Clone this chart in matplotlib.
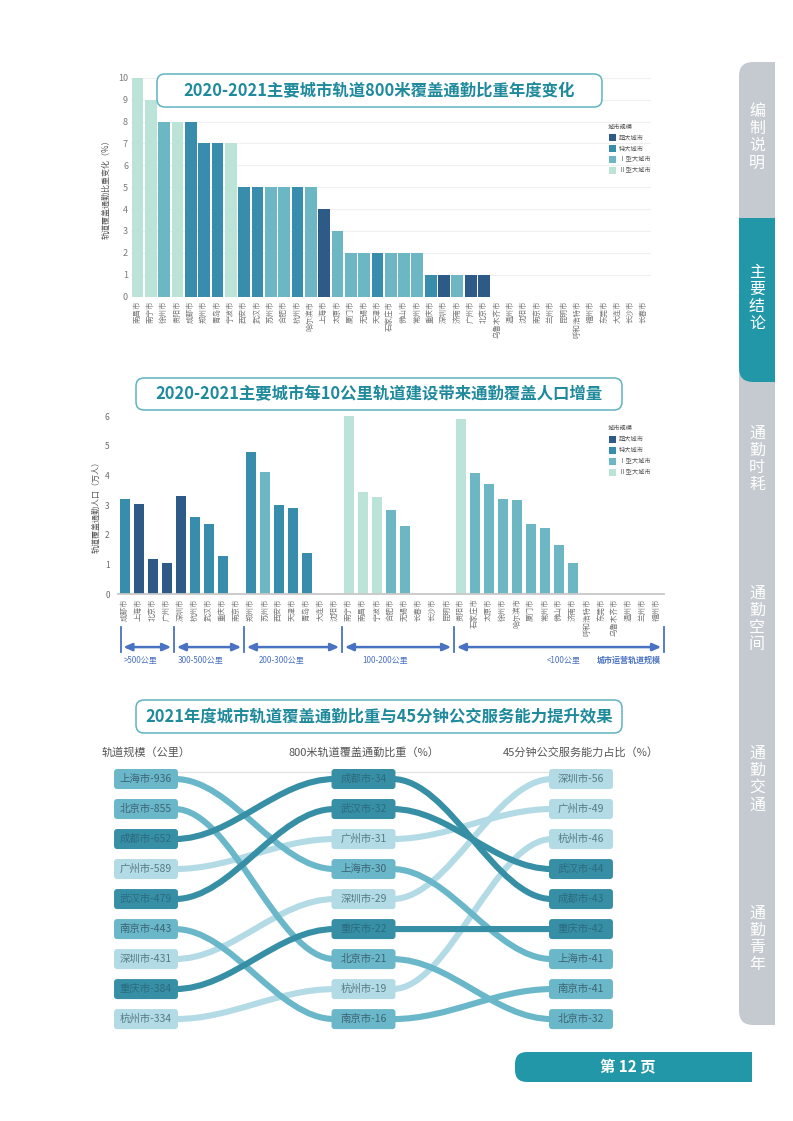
import numpy as np
import matplotlib
matplotlib.use('Agg')
import matplotlib.pyplot as plt
import matplotlib.transforms as mtransforms
from matplotlib.patches import FancyBboxPatch, Rectangle, PathPatch
from matplotlib.path import Path

plt.rcParams['font.family'] = ['Noto Sans CJK SC', 'DejaVu Sans']

# ---------------- data ----------------
level_names = ['超大城市', '特大城市', ' Ⅰ型大城市', ' Ⅱ型大城市']
level_colors = ['#2d5a87', '#378dab', '#6db7c5', '#bce3d8']

# chart 1: change of 800m rail coverage share 2020-2021
cities1 = ['南昌市', '南宁市', '徐州市', '贵阳市', '成都市', '郑州市', '青岛市', '宁波市',
           '西安市', '武汉市', '苏州市', '合肥市', '杭州市', '哈尔滨市', '上海市', '太原市',
           '厦门市', '无锡市', '天津市', '石家庄市', '佛山市', '常州市', '重庆市', '深圳市',
           '济南市', '广州市', '北京市', '乌鲁木齐市', '温州市', '沈阳市', '南京市', '兰州市',
           '昆明市', '呼和浩特市', '福州市', '东莞市', '大连市', '长沙市', '长春市']
change1 = [10, 9, 8, 8, 8, 7, 7, 7, 5, 5, 5, 5, 5, 5, 4, 3, 2, 2, 2, 2, 2, 2, 1, 1, 1, 1, 1,
           0, 0, 0, 0, 0, 0, 0, 0, 0, 0, 0, 0]
level1 = [3, 3, 2, 3, 1, 1, 1, 3, 1, 1, 2, 2, 1, 2, 0, 2, 2, 2, 1, 2, 2, 2, 1, 0, 2, 0, 0,
          2, 2, 1, 1, 2, 1, 2, 2, 2, 1, 1, 1]

# chart 2: commuting population added per 10 km of new rail (10k people)
cities2 = ['成都市', '上海市', '北京市', '广州市', '深圳市', '杭州市', '武汉市', '重庆市', '南京市',
           '郑州市', '苏州市', '西安市', '天津市', '青岛市', '大连市', '沈阳市',
           '南宁市', '南昌市', '宁波市', '合肥市', '无锡市', '长春市', '长沙市', '昆明市',
           '贵阳市', '石家庄市', '太原市', '徐州市', '哈尔滨市', '厦门市', '常州市', '佛山市',
           '济南市', '呼和浩特市', '东莞市', '乌鲁木齐市', '温州市', '兰州市', '福州市']
pop2 = [3.2, 3.05, 1.2, 1.05, 3.3, 2.6, 2.35, 1.3, 0,
        4.8, 4.1, 3.0, 2.9, 1.4, 0, 0,
        6.0, 3.45, 3.28, 2.85, 2.3, 0, 0, 0,
        5.9, 4.07, 3.7, 3.2, 3.18, 2.38, 2.23, 1.65, 1.05, 0, 0, 0, 0, 0, 0]
level2 = [1, 0, 0, 0, 0, 1, 1, 1, 1,
          1, 2, 1, 1, 1, 1, 1,
          3, 3, 3, 2, 2, 1, 1, 1,
          3, 2, 2, 2, 2, 2, 2, 2, 2, 2, 2, 2, 2, 2, 2]
groups2 = ['>500公里', '300-500公里', '200-300公里', '100-200公里', '<100公里']
group_sizes2 = [4, 5, 7, 8, 15]

# chart 3: rail scale vs coverage vs 45-min transit
cities3 = ['上海市', '北京市', '成都市', '广州市', '武汉市', '南京市', '深圳市', '重庆市', '杭州市']
rail_km = [936, 855, 652, 589, 479, 443, 431, 384, 334]
cover_pct = [30, 21, 34, 31, 32, 16, 29, 22, 19]
bus45_pct = [41, 32, 43, 49, 44, 41, 56, 42, 46]
tone3 = [1, 1, 2, 0, 2, 1, 0, 2, 0]   # 0 light, 1 medium, 2 dark
headers3 = ['轨道规模（公里）', '800米轨道覆盖通勤比重（%）', '45分钟公交服务能力占比（%）']
tone_colors = ['#b2dbe5', '#6ab7ca', '#378fa6']

sections = ['编制说明', '主要结论', '通勤时耗', '通勤空间', '通勤交通', '通勤青年']

W, H = 793, 1121
teal = '#2297a8'
blue = '#4a72c2'

fig = plt.figure(figsize=(W / 100, H / 100), dpi=100)


def px_axes(l, t, r, b, **kw):
    return fig.add_axes([l / W, 1 - b / H, (r - l) / W, (b - t) / H], **kw)


# ---------------- chart 1 ----------------
ax1 = px_axes(130.8, 77.7, 650.6, 296.7)
x1 = np.arange(len(cities1))
ax1.bar(x1, change1, 0.88, color=[level_colors[k] for k in level1], linewidth=0, zorder=2)
ax1.set_xlim(-0.5, len(cities1) - 0.5)
ax1.set_ylim(0, 10)
ax1.set_yticks(range(0, 11))
ax1.yaxis.grid(True, color='#f0f0f0', lw=0.8, zorder=0)
ax1.set_xticks(x1)
ax1.set_xticklabels(cities1, rotation=90, fontsize=5.4, color='#777777')
ax1.tick_params(axis='y', length=0, pad=2, labelsize=6.5, labelcolor='#7a7a7a')
ax1.tick_params(axis='x', length=0, pad=3)
for s in ax1.spines.values():
    s.set_visible(False)
ax1.set_ylabel('轨道覆盖通勤比重变化（%）', fontsize=5.8, color='#555555', labelpad=5)

# ---------------- chart 2 ----------------
ax2 = px_axes(118, 416, 664, 594.3)
x2 = np.arange(len(cities2))
ax2.bar(x2, pop2, 0.72, color=[level_colors[k] for k in level2], linewidth=0, zorder=2)
ax2.set_xlim(-0.5, len(cities2) - 0.5)
ax2.set_ylim(0, 6)
ax2.set_yticks(range(0, 7))
ax2.set_xticks(x2)
ax2.set_xticklabels(cities2, rotation=90, fontsize=5.4, color='#777777')
ax2.tick_params(axis='y', length=0, pad=6, labelsize=6, labelcolor='#6a6a6a')
ax2.tick_params(axis='x', length=0, pad=3)
for k, s in ax2.spines.items():
    s.set_visible(k == 'bottom')
ax2.spines['bottom'].set_color('#c8c8c8')
ax2.spines['bottom'].set_linewidth(1.3)
ax2.set_ylabel('轨道覆盖通勤人口（万人）', fontsize=5.8, color='#555555', labelpad=3)

# brackets under chart 2
trans = mtransforms.blended_transform_factory(ax2.transData, ax2.transAxes)
bounds = -0.5 + np.concatenate([[0], np.cumsum(group_sizes2)])
bounds[0] = -0.32
for b in bounds:
    ax2.plot([b, b], [-0.183, -0.324], transform=trans, color=blue, lw=1.3, clip_on=False)
label_shift = [-0.5, -0.6, -0.8, -0.9, 0.3]
for i, g in enumerate(groups2):
    a, b = bounds[i] + 0.2, bounds[i + 1] - 0.2
    ax2.annotate('', xy=(b, -0.296), xytext=(a, -0.296), xycoords=trans, textcoords=trans,
                 arrowprops=dict(arrowstyle='<|-|>,head_length=0.5,head_width=0.22',
                                 color=blue, lw=1.8, shrinkA=0, shrinkB=0))
    ax2.text((bounds[i] + bounds[i + 1]) / 2 + label_shift[i], -0.37, g, transform=trans,
             ha='center', va='center', fontsize=5.8, color=blue)
ax2.text(bounds[-1] - 0.2, -0.37, '城市运营轨道规模', transform=trans, ha='right', va='center',
         fontsize=5.8, color=blue, fontweight='bold')

# ---------------- chart 3 ----------------
ax3 = px_axes(80.75, 740, 646.25, 1035)
ax3.set_xlim(-0.3, 2.3)
ax3.set_ylim(8.53, -1.3)
ax3.axis('off')
asp = ((646.25 - 80.75) / 2.6) / ((1035 - 740) / 9.83)
bw, bh = 0.294, 0.667

cols = [rail_km, cover_pct, bus45_pct]
ranks = []
for vals in cols:
    order = sorted(range(len(vals)), key=lambda i: -vals[i])
    r = [0] * len(vals)
    for pos, i in enumerate(order):
        r[i] = pos
    ranks.append(r)

ax3.plot([0, 2], [-0.22, -0.22], color='#e2e2e2', lw=0.9, zorder=0)
for c, h in enumerate(headers3):
    ax3.text(c, -0.87, h, ha='center', va='center', fontsize=8, color='#555555')

for tone in (0, 1, 2):
    for i in range(len(cities3)):
        if tone3[i] != tone:
            continue
        for c in range(2):
            xa, ya = c + bw / 2 * 0.9, ranks[c][i]
            xb, yb = c + 1 - bw / 2 * 0.9, ranks[c + 1][i]
            d = (xb - xa) * 0.36
            path = Path([(xa, ya), (xa + d, ya), (xb - d, yb), (xb, yb)],
                        [Path.MOVETO, Path.CURVE4, Path.CURVE4, Path.CURVE4])
            ax3.add_patch(PathPatch(path, fc='none', ec=tone_colors[tone], lw=4.4,
                                    capstyle='butt', zorder=1 + tone))

txt_colors = ['#557a87', '#3c6473', '#2c6b7e']
for c, vals in enumerate(cols):
    for i, city in enumerate(cities3):
        r = ranks[c][i]
        ax3.add_patch(FancyBboxPatch((c - bw / 2, r - bh / 2), bw, bh,
                                     boxstyle='round,pad=0,rounding_size=0.014',
                                     mutation_aspect=asp, fc=tone_colors[tone3[i]],
                                     ec='none', zorder=5))
        ax3.text(c, r, f'{city}-{vals[i]}', ha='center', va='center', fontsize=7.5,
                 color=txt_colors[tone3[i]], zorder=6)

# ---------------- page decorations ----------------
pg = fig.add_axes([0, 0, 1, 1], zorder=10)
pg.set_xlim(0, W)
pg.set_ylim(H, 0)
pg.axis('off')
pg.patch.set_visible(False)

titles = ['2020-2021主要城市轨道800米覆盖通勤比重年度变化',
          '2020-2021主要城市每10公里轨道建设带来通勤覆盖人口增量',
          '2021年度城市轨道覆盖通勤比重与45分钟公交服务能力提升效果']
title_boxes = [(157, 74, 602, 107), (136, 378, 622, 410), (136, 700, 622, 733)]
for t, (l, tp, r, b) in zip(titles, title_boxes):
    pg.add_patch(FancyBboxPatch((l, tp), r - l, b - tp, boxstyle='round,pad=0,rounding_size=8',
                                fc='white', ec='#5fb3c1', lw=1.1))
    pg.text((l + r) / 2, (tp + b) / 2 + 0.5, t, ha='center', va='center', fontsize=11.8,
            fontweight='bold', color='#1f8a9c')

# legends
for ly in (126.5, 428):
    pg.text(608, ly, '城市规模', fontsize=4.5, color='#555555', va='center')
    for k, name in enumerate(level_names):
        yy = ly + 11 * (k + 1)
        pg.add_patch(Rectangle((609, yy - 3.5), 7, 7, fc=level_colors[k], ec='none'))
        pg.text(618.5, yy, name, fontsize=4.5, color='#555555', va='center')

# sidebar
pg.add_patch(FancyBboxPatch((739, 62), 60, 963, boxstyle='round,pad=0,rounding_size=14',
                            fc='#c4cad0', ec='none'))
pg.add_patch(FancyBboxPatch((739, 218), 60, 164, boxstyle='round,pad=0,rounding_size=14',
                            fc=teal, ec='none'))
pg.add_patch(Rectangle((739, 218), 60, 30, fc=teal, ec='none'))
pg.add_patch(Rectangle((775, 50), 18, 990, fc='white', ec='none'))
sec_y = [137, 298, 459, 619, 779, 939]
for s, yy in zip(sections, sec_y):
    pg.text(757, yy, '\n'.join(s), ha='center', va='center', fontsize=11.5,
            color='white', linespacing=1.02, fontweight='medium')

# footer
pg.add_patch(FancyBboxPatch((515, 1052), 237, 30, boxstyle='round,pad=0,rounding_size=12',
                            fc=teal, ec='none'))
pg.add_patch(Rectangle((700, 1052), 52, 30, fc=teal, ec='none'))
pg.text(628, 1067, '第 12 页', ha='center', va='center', fontsize=11, fontweight='bold',
        color='white')

fig.savefig('out.png', dpi=100, facecolor='white')
